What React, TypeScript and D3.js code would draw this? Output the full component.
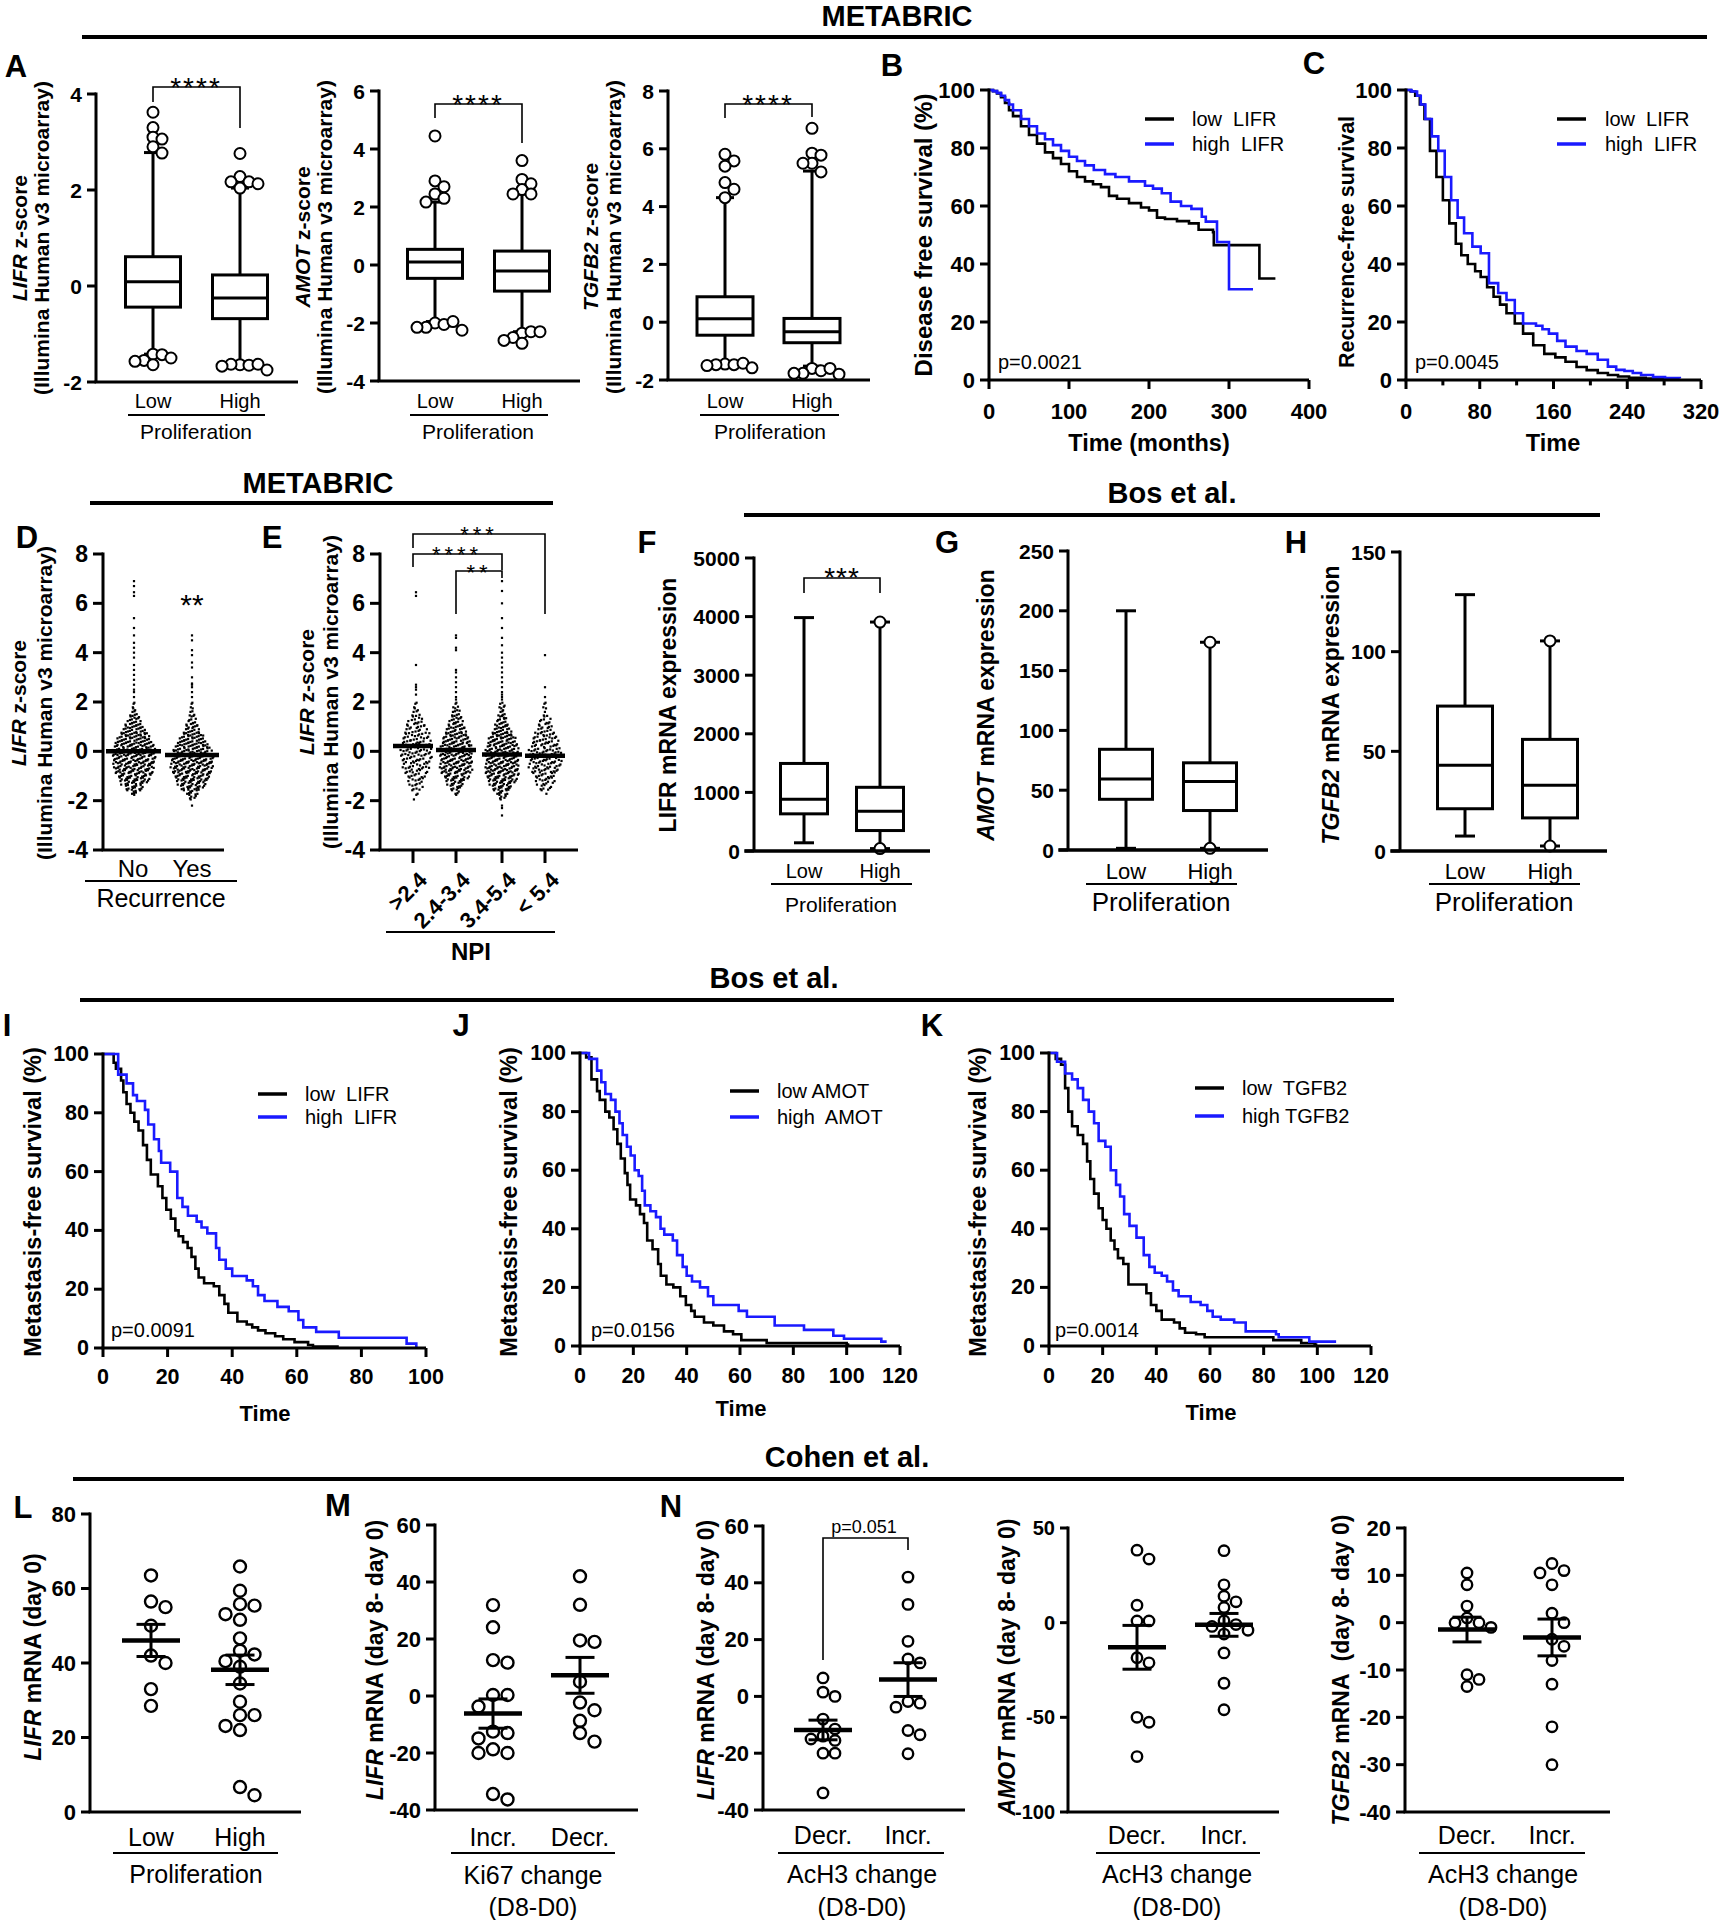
import React from 'react';
import * as d3 from 'd3';

const FONT = "'Liberation Sans', Arial, Helvetica, sans-serif";
const BLUE = '#1a1aff';

// ---------- A: METABRIC z-score box plots ----------
// box stats: [whisker low, Q1, median, Q3, whisker high]
const propCats = ['Low', 'High'];
const lifrBoxLow = [-1.42, -0.44, 0.09, 0.61, 2.78];
const lifrBoxHigh = [-1.63, -0.68, -0.25, 0.23, 2.04];
const lifrOutLow = [3.62, 3.3, 3.1, 3.06, 2.9, 2.77, -1.42, -1.43, -1.55, -1.5, -1.57, -1.64];
const lifrOutHigh = [2.76, 2.28, 2.17, 2.17, 2.13, 2.04, -1.64, -1.65, -1.63, -1.63, -1.67, -1.75];
const amotBoxLow = [-1.95, -0.46, 0.1, 0.54, 2.17];
const amotBoxHigh = [-2.3, -0.9, -0.21, 0.48, 2.45];
const amotOutLow = [4.45, 2.9, 2.7, 2.45, 2.3, 2.17, -2.0, -2.05, -2.15, -1.95, -2.15, -2.25];
const amotOutHigh = [3.6, 2.95, 2.8, 2.6, 2.45, 2.45, -2.35, -2.3, -2.5, -2.3, -2.6, -2.7];
const tgfb2BoxLow = [-1.44, -0.45, 0.12, 0.88, 4.31];
const tgfb2BoxHigh = [-1.52, -0.71, -0.33, 0.13, 5.23];
const tgfb2OutLow = [5.81, 5.58, 5.4, 4.83, 4.6, 4.31, -1.45, -1.47, -1.47, -1.42, -1.5, -1.58];
const tgfb2OutHigh = [6.71, 5.85, 5.78, 5.5, 5.5, 5.2, -1.6, -1.68, -1.77, -1.6, -1.77, -1.8];

// ---------- B / C: METABRIC survival ([time, survival %] at each step) ----------
const bLowLifr = [[0, 100], [5, 99.6], [10, 98.8], [15, 97.5], [20, 95.5], [25, 93], [30, 91], [40, 87.5], [50, 84.5], [60, 81.5], [70, 78.5], [80, 76.5], [90, 74.5], [100, 72], [110, 70], [120, 68.5], [130, 67.5], [140, 66.5], [150, 63.5], [160, 62.5], [175, 61], [190, 59.5], [200, 58.5], [210, 56], [220, 55.5], [235, 54.8], [250, 54], [262, 51.8], [280, 51], [281, 46.5], [338, 35], [358, 35]];
const bHighLifr = [[0, 100], [5, 99.6], [10, 99], [15, 98], [20, 96.5], [25, 95], [30, 93], [40, 90], [50, 87.5], [60, 85], [70, 83], [80, 81], [90, 79], [100, 77], [110, 75.5], [120, 74], [131, 72.4], [145, 71], [158, 70], [175, 68.5], [195, 67], [205, 66], [216, 64.4], [227, 61.5], [240, 60], [253, 59], [266, 56.3], [271, 54.6], [285, 47.6], [300, 31.3], [330, 31.3]];
const cLowLifr = [[0, 100], [5, 99.5], [10, 98], [15, 95], [20, 90], [26, 79], [33, 70], [40, 62], [47, 54], [54, 47], [60, 43], [67, 40], [75, 37.5], [81, 35.5], [88, 32], [95, 28.7], [102, 26], [109, 23], [118, 19.5], [127, 16], [138, 12], [150, 9], [162, 7.8], [173, 6.3], [185, 4.5], [196, 3.4], [208, 2.4], [219, 1.7], [230, 1.2], [242, 0.8], [260, 0.5], [279, 0.3], [292, 0.3]];
const cHighLifr = [[0, 100], [6, 99.5], [12, 98], [16, 95], [21, 90], [28, 84], [35, 79], [42, 70], [49, 62], [56, 56], [63, 50.6], [72, 46], [81, 43.7], [90, 33.4], [100, 30], [109, 27.6], [118, 23], [127, 19.5], [141, 18.7], [148, 17.5], [155, 16], [164, 13.5], [173, 11.5], [185, 10], [196, 9], [208, 7], [219, 4.6], [228, 3.5], [237, 3.1], [246, 2.4], [255, 1.7], [268, 1.0], [281, 0.7], [297, 0.5]];

// ---------- D / E: METABRIC LIFR z-score scatter ----------
// dots per row, rows from -2.0 to 2.0 in steps of 0.1; tail = single points beyond
const recurCats = ['No', 'Yes'];
const npiCats = ['>2.4', '2.4-3.4', '3.4-5.4', '< 5.4'];
const dNoRows = [0, 0, 1, 3, 5, 6, 7, 9, 10, 11, 12, 13, 13, 14, 14, 15, 15, 15, 15, 15, 15, 15, 14, 14, 13, 12, 11, 10, 9, 8, 7, 6, 5, 4, 4, 3, 2, 2, 1, 1, 1];
const dNoTail = [2.2, 2.4, 2.5, 2.7, 2.9, 3.1, 3.3, 3.5, 3.8, 4.0, 4.2, 4.4, 4.7, 5.0, 5.4, 6.3, 6.45, 6.7, 6.9];
const dYesRows = [1, 2, 3, 5, 6, 8, 9, 10, 11, 12, 13, 13, 14, 14, 15, 15, 15, 15, 15, 14, 14, 13, 12, 11, 10, 9, 8, 7, 6, 5, 5, 4, 3, 3, 2, 2, 2, 1, 1, 1, 1];
const dYesTail = [2.2, 2.4, 2.6, 2.7, 2.75, 3.0, 3.4, 3.6, 3.9, 4.1, 4.5, 4.7, -2.2];
const dMeans = [0.0, -0.15];
const e1Rows = [1, 0, 1, 1, 2, 2, 3, 3, 4, 4, 5, 5, 5, 6, 6, 6, 7, 7, 7, 7, 7, 7, 7, 7, 7, 6, 6, 6, 5, 5, 5, 4, 4, 3, 3, 2, 2, 2, 1, 1, 1];
const e1Tail = [2.3, 2.5, 2.6, 2.7, 3.5, 6.3, 6.45];
const e2Rows = [0, 0, 1, 2, 3, 4, 5, 6, 7, 8, 9, 10, 10, 11, 11, 11, 11, 11, 11, 11, 11, 11, 11, 10, 10, 9, 9, 8, 7, 7, 6, 5, 5, 4, 4, 3, 3, 2, 2, 1, 1];
const e2Tail = [2.1, 2.2, 2.4, 2.6, 2.8, 3.0, 3.2, 3.3, 4.1, 4.2, 4.6, 4.7];
const e3Rows = [1, 2, 3, 5, 6, 7, 8, 9, 10, 11, 12, 12, 12, 12, 12, 12, 12, 12, 12, 12, 12, 12, 11, 11, 10, 10, 9, 8, 7, 6, 5, 5, 4, 4, 3, 3, 2, 2, 2, 2, 1];
const e3Tail = [2.1, 2.2, 2.3, 2.4, 2.6, 2.8, 3.0, 3.2, 3.4, 3.6, 3.8, 4.0, 4.3, 4.6, 5.0, 5.4, 6.0, 6.5, 6.9, -2.2, -2.3, -2.6];
const e4Rows = [0, 0, 0, 1, 2, 3, 3, 4, 5, 5, 6, 6, 7, 7, 8, 8, 8, 8, 8, 8, 8, 8, 7, 7, 7, 6, 6, 5, 5, 4, 4, 3, 3, 3, 2, 1, 1, 1, 1, 1, 1];
const e4Tail = [2.2, 2.6, 3.9];
const eMeans = [0.22, 0.05, -0.13, -0.18];

// ---------- F / G / H: Bos et al. box plots ----------
const fBoxLow = [140, 634, 884, 1494, 3983];
const fBoxHigh = [41, 349, 680, 1087, 3907];
const fOutHigh = [3907, 41];
const gBoxLow = [1.4, 42.4, 59.3, 84.2, 200];
const gBoxHigh = [1.4, 33, 57.3, 72.9, 173.7];
const gOutHigh = [173.7, 1.4];
const hBoxLow = [7.5, 21.2, 43, 72.7, 128.6];
const hBoxHigh = [2.5, 16.6, 33, 56, 105.4];
const hOutHigh = [105.4, 2.5];

// ---------- I / J / K: Bos et al. metastasis-free survival ----------
const iLowLifr = [[0, 100], [3.3, 97], [4, 95], [5.6, 91], [6.3, 87], [7.3, 83], [8.5, 80], [9.7, 77], [11, 74], [12.4, 69], [13.6, 64], [14.8, 59], [17, 55], [18.4, 51], [19.6, 47], [21, 44], [22.4, 40], [23.4, 38], [24.8, 36], [26.2, 34], [27.4, 31], [28.6, 27], [29.6, 24], [31.3, 22], [34.3, 21], [36, 18], [37.6, 15], [38.8, 12], [41.6, 9], [44.5, 8], [46.2, 7], [48, 6], [50.3, 5], [53.3, 4], [55.8, 3], [59.3, 2], [63.5, 1], [65, 0.5], [73, 0.5]];
const iHighLifr = [[0, 100], [4.7, 93], [7.3, 90], [9.3, 86], [10.5, 84], [13, 81], [14, 76], [15.8, 71], [17.3, 67], [18, 63], [20.8, 60], [23, 51], [24.6, 48], [26.3, 45], [29, 43], [30.5, 41], [32.3, 39], [35, 34], [36, 30], [38, 27], [40, 24.5], [44.5, 23], [46.4, 21], [48, 18], [50, 16], [54, 14], [57.5, 12.5], [60.5, 9.5], [62, 7], [66, 5.5], [73, 3.5], [94, 1.5], [97, 0]];
const jLowAmot = [[0, 100], [2.3, 98.5], [4.3, 91], [6.4, 87], [7.4, 84], [9.5, 80], [11, 78], [12.6, 74], [14, 69], [15.3, 64], [16.8, 59], [17.8, 55], [18.8, 50], [21, 48], [22.5, 45], [24, 42], [25.2, 36], [27.2, 33], [29.3, 28], [30.3, 24], [32.4, 21], [35, 20], [37.6, 17], [39.7, 14], [41.7, 12], [43, 10], [46.5, 8], [50, 7], [54, 5], [57.4, 4], [60.5, 2], [70, 1], [100, 0.5], [101, 0.5]];
const jHighAmot = [[0, 100], [3.4, 98], [6.4, 94], [8, 90], [9.5, 86], [11.6, 84], [13.3, 80], [14.8, 76], [16, 72], [17.6, 68], [19, 65], [20.5, 60], [22, 58], [23.3, 53], [24.3, 48], [26.4, 46], [28.5, 44], [30.2, 40], [31.6, 38], [34.8, 36], [36.4, 31], [38.5, 27], [40, 24], [42, 22], [45, 20], [48, 17], [50, 14], [59.5, 12], [62.6, 10], [73, 7], [84, 5.5], [95, 3.5], [99, 2.5], [113, 1.5], [115, 1.5]];
const kLowTgfb2 = [[0, 100], [2.5, 98], [4.5, 96], [6, 88], [7.2, 80], [8.6, 75], [10.7, 72], [12.7, 69], [14.2, 63], [15.4, 57], [16.8, 52], [18.5, 47], [20, 43], [21.4, 40], [23, 36], [24.4, 33], [25.7, 30], [27.7, 28], [29.6, 21], [34.3, 21], [36.3, 18], [38, 14], [40, 12], [42, 9], [46.6, 8], [48.7, 6], [50.7, 4.5], [54.8, 4], [58, 3], [83.6, 2], [94, 1], [99, 0.5], [100, 0.5]];
const kHighTgfb2 = [[0, 100], [3, 97], [6, 93], [8.6, 91], [10.7, 88], [12.7, 84], [14.8, 80], [16.8, 76], [18.5, 70], [21, 68], [23, 60], [25, 55], [26.5, 51], [28, 45], [30, 41], [32.6, 37], [35.3, 31], [37.4, 27], [39.4, 25], [42, 24], [44, 22], [46.2, 19], [48.3, 17], [52.8, 15], [56.5, 14], [59, 12], [61, 10], [64, 9], [69, 8], [73.3, 5], [84.6, 4], [85.6, 3], [97, 1.5], [107, 1.5]];
const pValues = ['p=0.0021', 'p=0.0045', 'p=0.0091', 'p=0.0156', 'p=0.0014'];

// ---------- L / M / N: Cohen et al. ----------
const lLow = [63.5, 56.5, 55, 50, 42, 40, 33, 28.5];
const lHigh = [65.9, 59.4, 55.8, 55.4, 53.1, 51.6, 46.6, 43.3, 42.3, 40.5, 39.0, 34.5, 29.6, 26, 26, 23.1, 22, 6.7, 4.5];
const ki67Cats = ['Incr.', 'Decr.'];
const mIncr = [31.9, 24.1, 12.6, 11.7, 0.35, 0.35, -3.7, -12.5, -13, -14.9, -18.7, -20, -20, -34.4, -36.3];
const mDecr = [42, 32, 19.5, 19, 5, -2.3, -5, -8.7, -13, -16];
const ach3Cats = ['Decr.', 'Incr.'];
const n1Decr = [6.5, 1.5, 0, -8, -11.5, -14, -15.5, -15, -20, -20, -34];
const n1Incr = [42, 32.4, 19.4, 13.2, 11.8, -1.8, -2.4, -3.8, -12, -13.5, -20.2];
const n2Decr = [38.3, 33.6, 9.2, 0.9, 0.9, -18.5, -21.2, -50, -52.6, -70.7];
const n2Incr = [38, 20, 14, 11, 8, 1, -1, -2, -4, -6, -16, -32, -46];
const n3Decr = [10.5, 8, 3.5, 1, 0, 0, -1, -11, -12, -13.5];
const n3Incr = [12.5, 11, 10.5, 8, 2, 0, -3.5, -5, -8, -13, -22, -30];

type Sc = d3.ScaleLinear<number, number>;

function T({ x, y, s = 21, w = 'normal', a = 'middle', rot = 0, ls = 0, base = 'central', children }: any) {
  return (
    <text
      transform={`translate(${x},${y})${rot ? ` rotate(${rot})` : ''}`}
      fontSize={s}
      fontWeight={w}
      textAnchor={a}
      dominantBaseline={base}
      fontFamily={FONT}
      letterSpacing={ls || undefined}
      fill="#000"
      style={{ whiteSpace: 'pre' }}
    >
      {children}
    </text>
  );
}

function YAxis({ x, y, ticks, fs = 21, len = 9, sw = 3 }: { x: number; y: Sc; ticks: number[]; fs?: number; len?: number; sw?: number }) {
  const [b, t] = y.range();
  return (
    <g>
      <g stroke="#000" strokeWidth={sw}>
        <line x1={x} x2={x} y1={b} y2={t - sw / 2} />
        {ticks.map((v) => (
          <line key={v} x1={x - len} x2={x} y1={y(v)} y2={y(v)} />
        ))}
      </g>
      {ticks.map((v) => (
        <T key={v} x={x - len - 5} y={y(v)} s={fs} w="bold" a="end">
          {String(v)}
        </T>
      ))}
    </g>
  );
}

function XLine({ x0, x1, y, sw = 3 }: any) {
  return <line x1={x0 - sw / 2} x2={x1} y1={y} y2={y} stroke="#000" strokeWidth={sw} />;
}

function XTicks({ x, y0, ticks, minor = [], len = 9, fs = 21, ly }: any) {
  return (
    <g>
      <g stroke="#000" strokeWidth={3}>
        {ticks.map((v: number) => (
          <line key={v} x1={x(v)} x2={x(v)} y1={y0} y2={y0 + len} />
        ))}
        {minor.map((v: number) => (
          <line key={'m' + v} x1={x(v)} x2={x(v)} y1={y0} y2={y0 + len * 0.6} />
        ))}
      </g>
      {ticks.map((v: number) => (
        <T key={v} x={x(v)} y={ly} s={fs} w="bold">
          {String(v)}
        </T>
      ))}
    </g>
  );
}

function Box({ cx, st, y, w, cap = 18, sw = 3 }: any) {
  const [wl, q1, md, q3, wh] = st;
  return (
    <g stroke="#000" strokeWidth={sw} fill="none">
      <line x1={cx} x2={cx} y1={y(wh)} y2={y(q3)} />
      <line x1={cx} x2={cx} y1={y(q1)} y2={y(wl)} />
      <line x1={cx - cap / 2} x2={cx + cap / 2} y1={y(wh)} y2={y(wh)} />
      <line x1={cx - cap / 2} x2={cx + cap / 2} y1={y(wl)} y2={y(wl)} />
      <rect x={cx - w / 2} y={y(q3)} width={w} height={y(q1) - y(q3)} fill="#fff" />
      <line x1={cx - w / 2} x2={cx + w / 2} y1={y(md)} y2={y(md)} />
    </g>
  );
}

// simple deterministic beeswarm: centre first, then alternate sides
function swarm(vals: number[], y: Sc, cx: number, step: number, minD: number) {
  const placed: { x: number; y: number }[] = [];
  vals.forEach((v) => {
    const py = y(v);
    for (let k = 0; k < 30; k++) {
      const off = k === 0 ? 0 : (k % 2 ? 1 : -1) * Math.ceil(k / 2) * step;
      const px = cx + off;
      if (placed.every((p) => Math.hypot(p.x - px, p.y - py) >= minD)) {
        placed.push({ x: px, y: py });
        return;
      }
    }
  });
  return placed;
}

function Circles({ vals, y, cx, r = 5.5, step = 9, minD = 9, sw = 2 }: any) {
  const pts = swarm(vals, y, cx, step, minD);
  return (
    <g fill="#fff" stroke="#000" strokeWidth={sw}>
      {pts.map((p, i) => (
        <circle key={i} cx={p.x} cy={p.y} r={r} />
      ))}
    </g>
  );
}

function Bracket({ x1, x2, yb, yl, yr, sw = 1.6 }: any) {
  return <path d={`M${x1},${yl}V${yb}H${x2}V${yr}`} fill="none" stroke="#000" strokeWidth={sw} />;
}

function Stars({ x, y, s = 28, ls = 2, children }: any) {
  return (
    <T x={x} y={y} s={s} base="alphabetic" ls={ls}>
      {children}
    </T>
  );
}

function Cats({ xs, labels, y, fs = 20, ul, titles }: any) {
  return (
    <g>
      {labels.map((l: string, i: number) => (
        <T key={l} x={xs[i]} y={y} s={fs}>
          {l}
        </T>
      ))}
      <line x1={ul[0]} x2={ul[1]} y1={ul[2]} y2={ul[2]} stroke="#000" strokeWidth={2} />
      {titles.map((t: any, i: number) => (
        <T key={i} x={t.x} y={t.y} s={t.s} w={t.w || 'normal'}>
          {t.text}
        </T>
      ))}
    </g>
  );
}

function KM({ x, y, series, sw = 2.6 }: any) {
  const line = d3
    .line<number[]>()
    .x((d) => x(d[0]))
    .y((d) => y(d[1]))
    .curve(d3.curveStepAfter);
  return (
    <g fill="none">
      {series.map((s: any, i: number) => (
        <path key={i} d={line(s.data) || ''} stroke={s.color} strokeWidth={sw} strokeLinejoin="miter" />
      ))}
    </g>
  );
}

function Legend({ x, y, gap, labels, tx, fs = 20 }: any) {
  return (
    <g>
      {labels.map((l: string, i: number) => (
        <g key={l}>
          <line x1={x} x2={x + 29} y1={y + i * gap} y2={y + i * gap} stroke={i ? BLUE : '#000'} strokeWidth={3.5} />
          <T x={tx} y={y + i * gap} s={fs} a="start">
            {l}
          </T>
        </g>
      ))}
    </g>
  );
}

const frac = (v: number) => v - Math.floor(v);

// dense scatter: each row holds `n` dots, spread across the row with a fixed
// low-discrepancy offset so it reads like a Prism scatter rather than a grid
function RowSwarm({ rows, tail, cx, sp, y, r = 1.1 }: any) {
  const rowPx = Math.abs(y(0.1) - y(0));
  const pts: number[][] = [];
  rows.forEach((n: number, i: number) => {
    const v = -2 + i * 0.1;
    for (let j = 0; j < n; j++) {
      const jx = (frac(j * 0.618 + i * 0.291) - 0.5) * sp * 0.9;
      const jy = (frac(j * 0.7548 + i * 0.5698) - 0.5) * rowPx;
      pts.push([cx + (j - (n - 1) / 2) * sp + jx, y(v) + jy]);
    }
  });
  tail.forEach((v: number) => pts.push([cx, y(v)]));
  return (
    <g fill="#000">
      {pts.map((p, i) => (
        <rect key={i} x={p[0] - r} y={p[1] - r} width={2 * r} height={2 * r} />
      ))}
    </g>
  );
}

function DotGroup({ vals, cx, y, r = 6, step = 14.5, minD = 12, mw = 58, cw = 29 }: any) {
  const m = d3.mean(vals) as number;
  const sem = (d3.deviation(vals) as number) / Math.sqrt(vals.length);
  return (
    <g>
      <Circles vals={vals} y={y} cx={cx} r={r} step={step} minD={minD} sw={2.4} />
      <g stroke="#000" fill="none">
        <line x1={cx - mw / 2} x2={cx + mw / 2} y1={y(m)} y2={y(m)} strokeWidth={4.5} />
        <line x1={cx} x2={cx} y1={y(m - sem)} y2={y(m + sem)} strokeWidth={3} />
        <line x1={cx - cw / 2} x2={cx + cw / 2} y1={y(m + sem)} y2={y(m + sem)} strokeWidth={3} />
        <line x1={cx - cw / 2} x2={cx + cw / 2} y1={y(m - sem)} y2={y(m - sem)} strokeWidth={3} />
      </g>
    </g>
  );
}

function Section({ text, x, y, line }: any) {
  return (
    <g>
      <T x={x} y={y} s={29} w="bold">
        {text}
      </T>
      <line x1={line[0]} x2={line[1]} y1={line[2]} y2={line[2]} stroke="#000" strokeWidth={4} />
    </g>
  );
}

function Letter({ x, y, c }: any) {
  return (
    <T x={x} y={y} s={31} w="bold">
      {c}
    </T>
  );
}

const it = (s: string) => <tspan fontStyle="italic">{s}</tspan>;

export default function App() {
  // ---- scales ----
  const yA1 = d3.scaleLinear().domain([-2, 4]).range([382, 94]);
  const yA2 = d3.scaleLinear().domain([-4, 6]).range([381, 91]);
  const yA3 = d3.scaleLinear().domain([-2, 8]).range([380, 91]);
  const xB = d3.scaleLinear().domain([0, 400]).range([989, 1309]);
  const yB = d3.scaleLinear().domain([0, 100]).range([380, 90]);
  const xC = d3.scaleLinear().domain([0, 320]).range([1406, 1701]);
  const yD = d3.scaleLinear().domain([-4, 8]).range([850, 554]);
  const yF = d3.scaleLinear().domain([0, 5000]).range([851, 558]);
  const yG = d3.scaleLinear().domain([0, 250]).range([850, 551]);
  const yH = d3.scaleLinear().domain([0, 150]).range([851, 552]);
  const xI = d3.scaleLinear().domain([0, 100]).range([103, 426]);
  const yI = d3.scaleLinear().domain([0, 100]).range([1348, 1054]);
  const xJ = d3.scaleLinear().domain([0, 120]).range([580, 900]);
  const yJ = d3.scaleLinear().domain([0, 100]).range([1346, 1053]);
  const xK = d3.scaleLinear().domain([0, 120]).range([1049, 1371]);
  const yL = d3.scaleLinear().domain([0, 80]).range([1812, 1514]);
  const yM = d3.scaleLinear().domain([-40, 60]).range([1810, 1525]);
  const yN1 = d3.scaleLinear().domain([-40, 60]).range([1810, 1526]);
  const yN2 = d3.scaleLinear().domain([-100, 50]).range([1812, 1528]);
  const yN3 = d3.scaleLinear().domain([-40, 20]).range([1812, 1528]);

  const pctTicks = d3.range(0, 101, 20);
  const dxE = [413, 456, 502, 545];

  return (
    <svg width={1723} height={1920} style={{ position: 'absolute', left: 0, top: 0, background: '#fff' }} fontFamily={FONT}>
      <rect width={1723} height={1920} fill="#fff" />

      {/* ================= ROW 1 ================= */}
      <Section text="METABRIC" x={897} y={16} line={[82, 1707, 37]} />
      <Letter x={16} y={66} c="A" />
      <Letter x={892} y={65} c="B" />
      <Letter x={1314} y={63} c="C" />

      {/* A1 LIFR */}
      <T x={19} y={238} rot={-90} w="bold">{it('LIFR')} z-score</T>
      <T x={41} y={238} rot={-90} w="bold">(Illumina Human v3 microarray)</T>
      <Box cx={153} st={lifrBoxLow} y={yA1} w={55} />
      <Box cx={240} st={lifrBoxHigh} y={yA1} w={55} />
      <Circles vals={lifrOutLow} y={yA1} cx={153} />
      <Circles vals={lifrOutHigh} y={yA1} cx={240} />
      <YAxis x={96} y={yA1} ticks={[-2, 0, 2, 4]} />
      <XLine x0={96} x1={298} y={yA1(-2)} />
      <Bracket x1={153} x2={240} yb={87} yl={102} yr={128} />
      <Stars x={196} y={97}>****</Stars>
      <Cats xs={[153, 240]} labels={propCats} y={401} ul={[128, 265, 415]} titles={[{ x: 196, y: 431, s: 21, text: 'Proliferation' }]} />

      {/* A2 AMOT */}
      <T x={302} y={237} rot={-90} w="bold">{it('AMOT')} z-score</T>
      <T x={324} y={237} rot={-90} w="bold">(Illumina Human v3 microarray)</T>
      <Box cx={435} st={amotBoxLow} y={yA2} w={55} />
      <Box cx={522} st={amotBoxHigh} y={yA2} w={55} />
      <Circles vals={amotOutLow} y={yA2} cx={435} />
      <Circles vals={amotOutHigh} y={yA2} cx={522} />
      <YAxis x={379} y={yA2} ticks={[-4, -2, 0, 2, 4, 6]} />
      <XLine x0={379} x1={580} y={yA2(-4)} />
      <Bracket x1={435} x2={522} yb={104} yl={118} yr={143} />
      <Stars x={478} y={114}>****</Stars>
      <Cats xs={[435, 522]} labels={propCats} y={401} ul={[410, 548, 415]} titles={[{ x: 478, y: 431, s: 21, text: 'Proliferation' }]} />

      {/* A3 TGFB2 */}
      <T x={590} y={237} rot={-90} w="bold">{it('TGFB2')} z-score</T>
      <T x={613} y={237} rot={-90} w="bold">(Illumina Human v3 microarray)</T>
      <Box cx={725} st={tgfb2BoxLow} y={yA3} w={56} />
      <Box cx={812} st={tgfb2BoxHigh} y={yA3} w={56} />
      <Circles vals={tgfb2OutLow} y={yA3} cx={725} />
      <Circles vals={tgfb2OutHigh} y={yA3} cx={812} />
      <YAxis x={668} y={yA3} ticks={[-2, 0, 2, 4, 6, 8]} />
      <XLine x0={668} x1={870} y={yA3(-2)} />
      <Bracket x1={725} x2={812} yb={104} yl={118} yr={117} />
      <Stars x={768} y={114}>****</Stars>
      <Cats xs={[725, 812]} labels={propCats} y={401} ul={[700, 839, 415]} titles={[{ x: 770, y: 431, s: 21, text: 'Proliferation' }]} />

      {/* B */}
      <T x={923} y={235} rot={-90} s={24} w="bold">Disease free survival (%)</T>
      <KM x={xB} y={yB} series={[{ data: bLowLifr, color: '#000' }, { data: bHighLifr, color: BLUE }]} />
      <YAxis x={989} y={yB} ticks={pctTicks} fs={22} />
      <XLine x0={989} x1={1309} y={380} />
      <XTicks x={xB} y0={380} ticks={[0, 100, 200, 300, 400]} ly={411} fs={22} />
      <T x={1149} y={443} s={23.5} w="bold">Time (months)</T>
      <Legend x={1145} y={119} gap={25} tx={1192} labels={['low  LIFR', 'high  LIFR']} />
      <T x={998} y={362} s={20} a="start">{pValues[0]}</T>

      {/* C */}
      <T x={1347} y={242} rot={-90} s={21.5} w="bold">Recurrence-free survival</T>
      <KM x={xC} y={yB} series={[{ data: cLowLifr, color: '#000' }, { data: cHighLifr, color: BLUE }]} />
      <YAxis x={1406} y={yB} ticks={pctTicks} fs={22} />
      <XLine x0={1406} x1={1701} y={380} />
      <XTicks x={xC} y0={380} ticks={[0, 80, 160, 240, 320]} minor={[40, 120, 200, 280]} ly={411} fs={22} />
      <T x={1553} y={443} s={23.5} w="bold">Time</T>
      <Legend x={1557} y={119} gap={25} tx={1605} labels={['low  LIFR', 'high  LIFR']} />
      <T x={1415} y={362} s={20} a="start">{pValues[1]}</T>

      {/* ================= ROW 2 ================= */}
      <Section text="METABRIC" x={318} y={483} line={[90, 553, 503]} />
      <Section text="Bos et al." x={1172} y={493} line={[744, 1600, 515]} />
      <Letter x={27} y={537} c="D" />
      <Letter x={272} y={537} c="E" />
      <Letter x={647} y={542} c="F" />
      <Letter x={947} y={542} c="G" />
      <Letter x={1296} y={542} c="H" />

      {/* D */}
      <T x={18} y={703} rot={-90} w="bold">{it('LIFR')} z-score</T>
      <T x={44} y={703} rot={-90} w="bold">(Illumina Human v3 microarray)</T>
      <RowSwarm rows={dNoRows} tail={dNoTail} cx={134} sp={2.9} y={yD} />
      <RowSwarm rows={dYesRows} tail={dYesTail} cx={192} sp={2.9} y={yD} />
      <g stroke="#000" strokeWidth={4.5}>
        <line x1={106} x2={161} y1={yD(dMeans[0])} y2={yD(dMeans[0])} />
        <line x1={165} x2={219} y1={yD(dMeans[1])} y2={yD(dMeans[1])} />
      </g>
      <YAxis x={103} y={yD} ticks={[-4, -2, 0, 2, 4, 6, 8]} fs={23} len={10} />
      <XLine x0={103} x1={224} y={850} />
      <Stars x={192} y={615} s={30} ls={0}>**</Stars>
      <Cats xs={[133, 192]} labels={recurCats} y={868} fs={24} ul={[85, 237, 881]} titles={[{ x: 161, y: 898, s: 25, text: 'Recurrence' }]} />

      {/* E */}
      <T x={306} y={692} rot={-90} w="bold">{it('LIFR')} z-score</T>
      <T x={330} y={692} rot={-90} w="bold">(Illumina Human v3 microarray)</T>
      <RowSwarm rows={e1Rows} tail={e1Tail} cx={416} sp={4.6} y={yD} />
      <RowSwarm rows={e2Rows} tail={e2Tail} cx={dxE[1]} sp={3.0} y={yD} />
      <RowSwarm rows={e3Rows} tail={e3Tail} cx={dxE[2]} sp={2.8} y={yD} />
      <RowSwarm rows={e4Rows} tail={e4Tail} cx={dxE[3]} sp={4.2} y={yD} />
      <g stroke="#000" strokeWidth={4.5}>
        {eMeans.map((m, i) => (
          <line key={i} x1={dxE[i] - 20} x2={dxE[i] + 20} y1={yD(m)} y2={yD(m)} />
        ))}
      </g>
      <YAxis x={380} y={yD} ticks={[-4, -2, 0, 2, 4, 6, 8]} fs={23} len={10} />
      <XLine x0={380} x1={578} y={850} />
      <g stroke="#000" strokeWidth={3}>
        {dxE.map((x) => (
          <line key={x} x1={x} x2={x} y1={850} y2={863} />
        ))}
      </g>
      {npiCats.map((c, i) => (
        <T key={c} x={dxE[i] + 10} y={876} rot={-45} s={22} w="bold" a="end">{c}</T>
      ))}
      <line x1={386} x2={555} y1={932} y2={932} stroke="#000" strokeWidth={2} />
      <T x={471} y={951} s={24} w="bold">NPI</T>
      <Bracket x1={dxE[0]} x2={dxE[3]} yb={534} yl={548} yr={614} />
      <Bracket x1={dxE[0]} x2={dxE[2]} yb={554} yl={567} yr={570} />
      <Bracket x1={dxE[1]} x2={dxE[2]} yb={571} yl={614} yr={578} />
      <Stars x={479} y={542} s={22} ls={4}>***</Stars>
      <Stars x={457} y={562} s={22} ls={4}>****</Stars>
      <Stars x={479} y={580} s={22} ls={4}>**</Stars>

      {/* F */}
      <T x={668} y={705} rot={-90} s={23} w="bold">LIFR mRNA expression</T>
      <Box cx={804} st={fBoxLow} y={yF} w={47} cap={20} />
      <Box cx={880} st={fBoxHigh} y={yF} w={47} cap={20} />
      <Circles vals={fOutHigh} y={yF} cx={880} r={5.5} />
      <YAxis x={754} y={yF} ticks={d3.range(0, 5001, 1000)} fs={21} />
      <XLine x0={746} x1={930} y={851} sw={3.5} />
      <Bracket x1={804} x2={880} yb={578} yl={593} yr={593} />
      <Stars x={842} y={587} s={28} ls={1}>***</Stars>
      <Cats xs={[804, 880]} labels={propCats} y={871} fs={20} ul={[771, 912, 884]} titles={[{ x: 841, y: 904, s: 21, text: 'Proliferation' }]} />

      {/* G */}
      <T x={986} y={705} rot={-90} s={23} w="bold">{it('AMOT')} mRNA expression</T>
      <Box cx={1126} st={gBoxLow} y={yG} w={53} cap={20} />
      <Box cx={1210} st={gBoxHigh} y={yG} w={53} cap={20} />
      <Circles vals={gOutHigh} y={yG} cx={1210} r={5.5} />
      <YAxis x={1068} y={yG} ticks={d3.range(0, 251, 50)} fs={21} />
      <XLine x0={1060} x1={1268} y={850} sw={3.5} />
      <Cats xs={[1126, 1210]} labels={propCats} y={871} fs={22} ul={[1086, 1237, 884]} titles={[{ x: 1161, y: 902, s: 26, text: 'Proliferation' }]} />

      {/* H */}
      <T x={1331} y={705} rot={-90} s={23} w="bold">{it('TGFB2')} mRNA expression</T>
      <Box cx={1465} st={hBoxLow} y={yH} w={55} cap={20} />
      <Box cx={1550} st={hBoxHigh} y={yH} w={55} cap={20} />
      <Circles vals={hOutHigh} y={yH} cx={1550} r={5.5} />
      <YAxis x={1400} y={yH} ticks={[0, 50, 100, 150]} fs={21} />
      <XLine x0={1392} x1={1607} y={851} sw={3.5} />
      <Cats xs={[1465, 1550]} labels={propCats} y={871} fs={22} ul={[1429, 1580, 884]} titles={[{ x: 1504, y: 902, s: 26, text: 'Proliferation' }]} />

      {/* ================= ROW 3 ================= */}
      <Section text="Bos et al." x={774} y={978} line={[80, 1394, 1000]} />
      <Letter x={7} y={1025} c="I" />
      <Letter x={461} y={1025} c="J" />
      <Letter x={932} y={1025} c="K" />

      {/* I */}
      <T x={33} y={1202} rot={-90} s={23.5} w="bold">Metastasis-free survival (%)</T>
      <KM x={xI} y={yI} series={[{ data: iLowLifr, color: '#000' }, { data: iHighLifr, color: BLUE }]} />
      <YAxis x={103} y={yI} ticks={pctTicks} fs={21.5} />
      <XLine x0={103} x1={426} y={1348} />
      <XTicks x={xI} y0={1348} ticks={d3.range(0, 101, 20)} ly={1377} fs={21.5} />
      <T x={265} y={1413} s={22} w="bold">Time</T>
      <Legend x={258} y={1094} gap={23} tx={305} labels={['low  LIFR', 'high  LIFR']} />
      <T x={111} y={1330} s={20} a="start">{pValues[2]}</T>

      {/* J */}
      <T x={509} y={1202} rot={-90} s={23.5} w="bold">Metastasis-free survival (%)</T>
      <KM x={xJ} y={yJ} series={[{ data: jLowAmot, color: '#000' }, { data: jHighAmot, color: BLUE }]} />
      <YAxis x={580} y={yJ} ticks={pctTicks} fs={21.5} />
      <XLine x0={580} x1={900} y={1346} />
      <XTicks x={xJ} y0={1346} ticks={d3.range(0, 121, 20)} ly={1376} fs={21.5} />
      <T x={741} y={1408} s={22} w="bold">Time</T>
      <Legend x={730} y={1091} gap={26} tx={777} labels={['low AMOT', 'high  AMOT']} />
      <T x={591} y={1330} s={20} a="start">{pValues[3]}</T>

      {/* K */}
      <T x={978} y={1202} rot={-90} s={23.5} w="bold">Metastasis-free survival (%)</T>
      <KM x={xK} y={yJ} series={[{ data: kLowTgfb2, color: '#000' }, { data: kHighTgfb2, color: BLUE }]} />
      <YAxis x={1049} y={yJ} ticks={pctTicks} fs={21.5} />
      <XLine x0={1049} x1={1371} y={1346} />
      <XTicks x={xK} y0={1346} ticks={d3.range(0, 121, 20)} ly={1376} fs={21.5} />
      <T x={1211} y={1412} s={22} w="bold">Time</T>
      <Legend x={1195} y={1088} gap={28} tx={1242} labels={['low  TGFB2', 'high TGFB2']} />
      <T x={1055} y={1330} s={20} a="start">{pValues[4]}</T>

      {/* ================= ROW 4 ================= */}
      <Section text="Cohen et al." x={847} y={1457} line={[73, 1624, 1479]} />
      <Letter x={23} y={1507} c="L" />
      <Letter x={338} y={1505} c="M" />
      <Letter x={671} y={1506} c="N" />

      {/* L */}
      <T x={33} y={1657} rot={-90} s={23} w="bold">{it('LIFR')} mRNA (day 0)</T>
      <DotGroup vals={lLow} cx={151} y={yL} />
      <DotGroup vals={lHigh} cx={240} y={yL} />
      <YAxis x={90} y={yL} ticks={d3.range(0, 81, 20)} fs={22} />
      <XLine x0={90} x1={301} y={1812} />
      <Cats xs={[151, 240]} labels={propCats} y={1837} fs={25} ul={[113, 278, 1853]} titles={[{ x: 196, y: 1874, s: 25, text: 'Proliferation' }]} />

      {/* M */}
      <T x={375} y={1660} rot={-90} s={23} w="bold">{it('LIFR')} mRNA (day 8- day 0)</T>
      <DotGroup vals={mIncr} cx={493} y={yM} />
      <DotGroup vals={mDecr} cx={580} y={yM} />
      <YAxis x={435} y={yM} ticks={d3.range(-40, 61, 20)} fs={22} />
      <XLine x0={435} x1={638} y={1810} />
      <Cats xs={[493, 580]} labels={ki67Cats} y={1837} fs={25} ul={[451, 615, 1853]} titles={[{ x: 533, y: 1875, s: 25, text: 'Ki67 change' }, { x: 533, y: 1907, s: 25, text: '(D8-D0)' }]} />

      {/* N1 */}
      <T x={706} y={1660} rot={-90} s={23} w="bold">{it('LIFR')} mRNA (day 8- day 0)</T>
      <DotGroup vals={n1Decr} cx={823} y={yN1} r={5.2} step={12} minD={10.5} />
      <DotGroup vals={n1Incr} cx={908} y={yN1} r={5.2} step={12} minD={10.5} />
      <YAxis x={763} y={yN1} ticks={d3.range(-40, 61, 20)} fs={22} />
      <XLine x0={763} x1={965} y={1810} />
      <Bracket x1={823} x2={908} yb={1538} yl={1660} yr={1550} />
      <T x={864} y={1527} s={18}>p=0.051</T>
      <Cats xs={[823, 908]} labels={ach3Cats} y={1835} fs={25} ul={[778, 944, 1853]} titles={[{ x: 862, y: 1874, s: 25, text: 'AcH3 change' }, { x: 862, y: 1907, s: 25, text: '(D8-D0)' }]} />

      {/* N2 */}
      <T x={1007} y={1667} rot={-90} s={23} w="bold">{it('AMOT')} mRNA (day 8- day 0)</T>
      <DotGroup vals={n2Decr} cx={1137} y={yN2} r={5.2} step={12} minD={10.5} />
      <DotGroup vals={n2Incr} cx={1224} y={yN2} r={5.2} step={12} minD={10.5} />
      <YAxis x={1068} y={yN2} ticks={[-100, -50, 0, 50]} fs={20} len={8} />
      <XLine x0={1068} x1={1279} y={1812} />
      <Cats xs={[1137, 1224]} labels={ach3Cats} y={1835} fs={25} ul={[1096, 1260, 1853]} titles={[{ x: 1177, y: 1874, s: 25, text: 'AcH3 change' }, { x: 1177, y: 1907, s: 25, text: '(D8-D0)' }]} />

      {/* N3 */}
      <T x={1341} y={1670} rot={-90} s={23} w="bold">{it('TGFB2')} mRNA  (day 8- day 0)</T>
      <DotGroup vals={n3Decr} cx={1467} y={yN3} r={5.2} step={12} minD={10.5} />
      <DotGroup vals={n3Incr} cx={1552} y={yN3} r={5.2} step={12} minD={10.5} />
      <YAxis x={1405} y={yN3} ticks={d3.range(-40, 21, 10)} fs={22} />
      <XLine x0={1405} x1={1610} y={1812} />
      <Cats xs={[1467, 1552]} labels={ach3Cats} y={1835} fs={25} ul={[1419, 1585, 1853]} titles={[{ x: 1503, y: 1874, s: 25, text: 'AcH3 change' }, { x: 1503, y: 1907, s: 25, text: '(D8-D0)' }]} />
    </svg>
  );
}
